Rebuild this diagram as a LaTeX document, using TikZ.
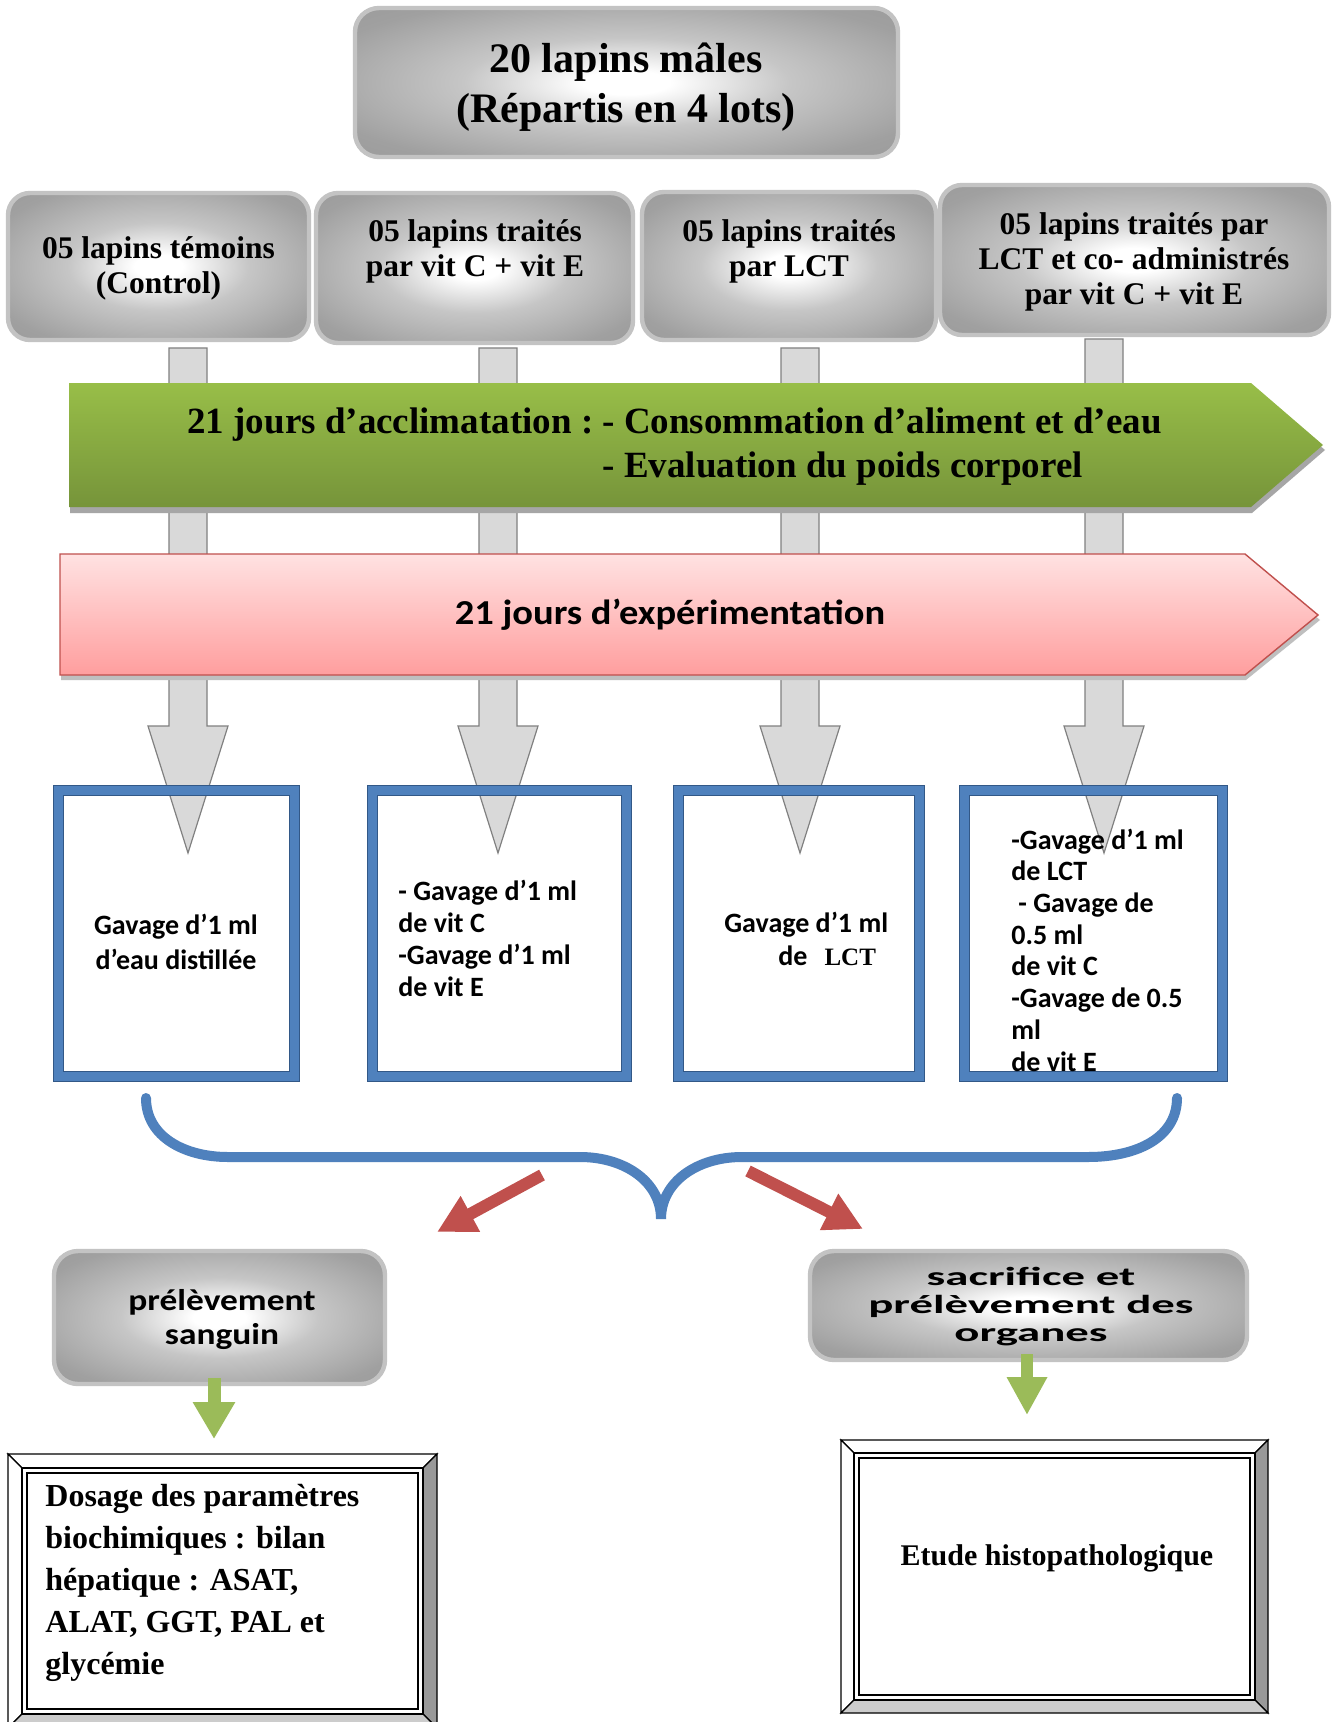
\documentclass[tikz,border=0pt]{standalone}
\usepackage{fontspec}
\setmainfont{Liberation Serif}
\newfontfamily\calfont{Carlito}
\newfontfamily\calpink[FakeStretch=1.1]{Carlito}
\newfontfamily\calwide[FakeStretch=1.18]{Carlito}
\newfontfamily\calwider[FakeStretch=1.8]{Carlito}
\usetikzlibrary{arrows.meta,calc}

\definecolor{boxgray}{RGB}{145,145,145}
\definecolor{boxmid}{RGB}{160,160,160}
\definecolor{boxlight}{RGB}{198,198,198}
\definecolor{boxline}{RGB}{195,195,195}
\definecolor{shaftfill}{RGB}{217,217,217}
\definecolor{shaftline}{RGB}{128,128,128}
\definecolor{greentop}{RGB}{152,190,72}
\definecolor{greenbot}{RGB}{118,148,58}
\definecolor{pinktop}{RGB}{255,226,226}
\definecolor{pinkbot}{RGB}{255,158,158}
\definecolor{pinkline}{RGB}{192,80,77}
\definecolor{blueb}{RGB}{79,129,189}
\definecolor{bluedark}{RGB}{50,88,135}
\definecolor{redarrow}{RGB}{192,80,77}
\definecolor{greenarrow}{RGB}{155,187,89}

\pgfdeclareradialshading{softgray}{\pgfpoint{0bp}{0bp}}{color(0bp)=(white); color(4bp)=(white); color(15bp)=(boxlight); color(30bp)=(boxmid); color(50bp)=(boxgray)}

\newcommand\bevframe[5]{%
  \filldraw[fill=white, draw=black, line width=0.6pt] (#1,#2) -- (#3,#2) -- ({#3-#5},{#2+#5}) -- ({#1+#5},{#2+#5}) -- cycle;
  \filldraw[fill=white, draw=black, line width=0.6pt] (#1,#2) -- ({#1+#5},{#2+#5}) -- ({#1+#5},{#4-#5}) -- (#1,#4) -- cycle;
  \filldraw[fill=black!40, draw=black, line width=0.6pt] (#3,#2) -- (#3,#4) -- ({#3-#5},{#4-#5}) -- ({#3-#5},{#2+#5}) -- cycle;
  \filldraw[fill=black!20, draw=black, line width=0.6pt] (#1,#4) -- (#3,#4) -- ({#3-#5},{#4-#5}) -- ({#1+#5},{#4-#5}) -- cycle;
  \draw[black, line width=0.6pt] ({#1+#5},{#2+#5}) rectangle ({#3-#5},{#4-#5});
  \draw[black, line width=0.9pt] ({#1+#5+5},{#2+#5+5}) rectangle ({#3-#5-5},{#4-#5-5});
}

\begin{document}
\begin{tikzpicture}[x=0.5pt,y=-0.5pt,
  graybox/.style={draw=boxline, line width=2.2pt, rounded corners=11pt, shading=softgray, inner sep=0pt},
  shaft/.style={fill=shaftfill, draw=shaftline, line width=0.6pt},
  bluebox/.style={draw=bluedark, line width=0.5pt, double=blueb, double distance=4.5pt, inner sep=0pt},
  ttxt/.style={font=\fontsize{15.75}{17.5}\selectfont\bfseries, align=center, inner sep=0pt},
  ctxt/.style={font=\calfont\fontsize{14}{16}\selectfont\bfseries, inner sep=0pt},
  redarr/.style={draw=redarrow, line width=6pt, -{Triangle[width=19pt,length=19pt]}},
  grnarr/.style={draw=greenarrow, line width=6.5pt, -{Triangle[width=20pt,length=18.5pt]}},
  bracestyle/.style={draw=blueb, line width=5pt, line cap=round}
]
\useasboundingbox (0,0) rectangle (1333,1722);
\fill[white] (0,0) rectangle (1333,1722);

% gray block arrows (behind the bands)
\foreach \cx/\yt in {188/348, 498/348, 800/348, 1104/339}{
  \draw[shaft] ({\cx-19},\yt) -- ({\cx+19},\yt) -- ({\cx+19},726) -- ({\cx+40},726)
     -- (\cx,853) -- ({\cx-40},726) -- ({\cx-19},726) -- cycle;
}

% green band
\fill[black!35] (70,389) -- (1252,389) -- (1325,450) -- (1252,513) -- (70,513) -- cycle;
\shade[top color=greentop, bottom color=greenbot] (69,383) -- (1251,383) -- (1323,445) -- (1251,507) -- (69,507) -- cycle;
\node[anchor=west, inner sep=0pt, font=\fontsize{18.5}{22}\selectfont\bfseries] (acc) at (187,447)
  {\begin{tabular}{@{}r@{}l@{}}21 jours d’acclimatation :\ \mbox{} & - Consommation d’aliment et d’eau\\ & - Evaluation du poids corporel\end{tabular}};

% pink band
\fill[black!25] (61,559) -- (1246,559) -- (1320,620) -- (1246,680) -- (61,680) -- cycle;
\shade[top color=pinktop, bottom color=pinkbot, draw=pinkline, line width=0.7pt] (60,554) -- (1245,554) -- (1318,615) -- (1245,675) -- (60,675) -- cycle;
\node[inner sep=0pt, font=\calpink\fontsize{17.5}{20}\selectfont\bfseries] (exp) at (670,615) {21 jours d’expérimentation};

% top box
\node[graybox, rounded corners=12pt, minimum width=271.5pt, minimum height=74.5pt] (top) at (626.5,82.5) {};
\node[inner sep=0pt, align=center, font=\fontsize{21}{25}\selectfont\bfseries] (toptxt) at (626,87) {20 lapins mâles\\(Répartis en 4 lots)};

% group boxes
\node[graybox, minimum width=150.5pt, minimum height=73.5pt] (g1) at (158.5,266.5) {};
\node[graybox, minimum width=158.5pt, minimum height=75pt] (g2) at (474.5,268) {};
\node[graybox, minimum width=147pt, minimum height=74pt] (g3) at (789,266) {};
\node[graybox, minimum width=194.5pt, minimum height=75pt] (g4) at (1134.5,260) {};
\node[ttxt] (t1) at (158.5,268) {05 lapins témoins\\(Control)};
\node[ttxt] (t2) at (475,251) {05 lapins traités\\par vit C + vit E};
\node[ttxt] (t3) at (789,251) {05 lapins traités\\par LCT};
\node[ttxt] (t4) at (1134,262) {05 lapins traités par\\LCT et co- administrés\\par vit C + vit E};

% blue boxes
\node[bluebox, minimum width=118pt, minimum height=143pt] (ba) at (176.5,933.5) {};
\node[bluebox, minimum width=127pt, minimum height=143pt] (bb) at (499.5,933.5) {};
\node[bluebox, minimum width=120.5pt, minimum height=143pt] (bc) at (799,933.5) {};
\node[bluebox, minimum width=129pt, minimum height=143pt] (bd) at (1093.5,933.5) {};

\node[ctxt, align=center, font=\calfont\fontsize{14}{17.5}\selectfont\bfseries] (ta) at (176,942) {Gavage d’1 ml\\d’eau distillée};
\node[ctxt, align=left, anchor=west] (tb) at (398,938) {- Gavage d’1 ml\\de vit C\\-Gavage d’1 ml\\de vit E};
\node[ctxt, align=left, anchor=west, font=\calfont\fontsize{14}{16.5}\selectfont\bfseries] (tc) at (724,939) {Gavage d’1 ml\\\hspace*{27pt}de\hspace{8.5pt}{\rmfamily\bfseries\fontsize{12.5}{16.5}\selectfont LCT}};
\node[ctxt, align=left, anchor=west, font=\calfont\fontsize{14}{15.85}\selectfont\bfseries] (td) at (1011,950) {-Gavage d’1 ml\\de LCT\\\hspace*{3.5pt}- Gavage de\\0.5 ml\\de vit C\\-Gavage de 0.5\\ml\\de vit E};

% brace
\coordinate (bl) at (146,1098);
\coordinate (bt) at (661,1219);
\coordinate (br) at (1177,1098);
\draw[bracestyle] (bl) .. controls (146,1137) and (185,1157) .. (228,1157) -- (580,1157)
   .. controls (625,1157) and (661,1182) .. (bt)
   .. controls (661,1182) and (697,1157) .. (742,1157) -- (1088,1157)
   .. controls (1138,1157) and (1177,1137) .. (br);

% red arrows
\coordinate (r1s) at (542,1175);
\coordinate (r1e) at (437,1232);
\coordinate (r2s) at (748,1171);
\coordinate (r2e) at (863,1229);
\draw[redarr] (r1s) -- (r1e);
\draw[redarr] (r2s) -- (r2e);

% bottom gray boxes
\node[graybox, rounded corners=12pt, minimum width=165.5pt, minimum height=66.5pt] (pb) at (219.5,1317.5) {};
\node[inner sep=0pt, align=center, font=\calwide\fontsize{15}{17}\selectfont\bfseries] (pbt) at (222,1319) {prélèvement\\sanguin};
\node[graybox, rounded corners=12pt, minimum width=218.5pt, minimum height=54.5pt] (sb) at (1028.5,1305.5) {};
\node[inner sep=0pt, align=center, font=\calwider\fontsize{13}{14}\selectfont\bfseries] (sbt) at (1031,1307) {sacrifice et\\prélèvement des\\organes};

% green arrows
\coordinate (ga1s) at (214,1378);
\coordinate (ga1e) at (214,1439);
\coordinate (ga2s) at (1027,1354);
\coordinate (ga2e) at (1027,1415);
\draw[grnarr] (ga1s) -- (ga1e);
\draw[grnarr, line width=6pt, -{Triangle[width=19pt,length=19pt]}] (ga2s) -- (ga2e);

% framed result boxes
\bevframe{8}{1454}{437}{1728}{14}
\node[anchor=west, inner sep=0pt, align=left, font=\fontsize{16}{21}\selectfont\bfseries] (dos) at (45,1583)
  {Dosage des paramètres\\biochimiques : bilan\\hépatique : ASAT,\\ALAT, GGT, PAL et\\glycémie};
\bevframe{841}{1440}{1268}{1713}{13}
\node[inner sep=0pt, font=\fontsize{15}{18}\selectfont\bfseries] (etu) at (1057,1558) {Etude histopathologique};
\end{tikzpicture}
\end{document}
